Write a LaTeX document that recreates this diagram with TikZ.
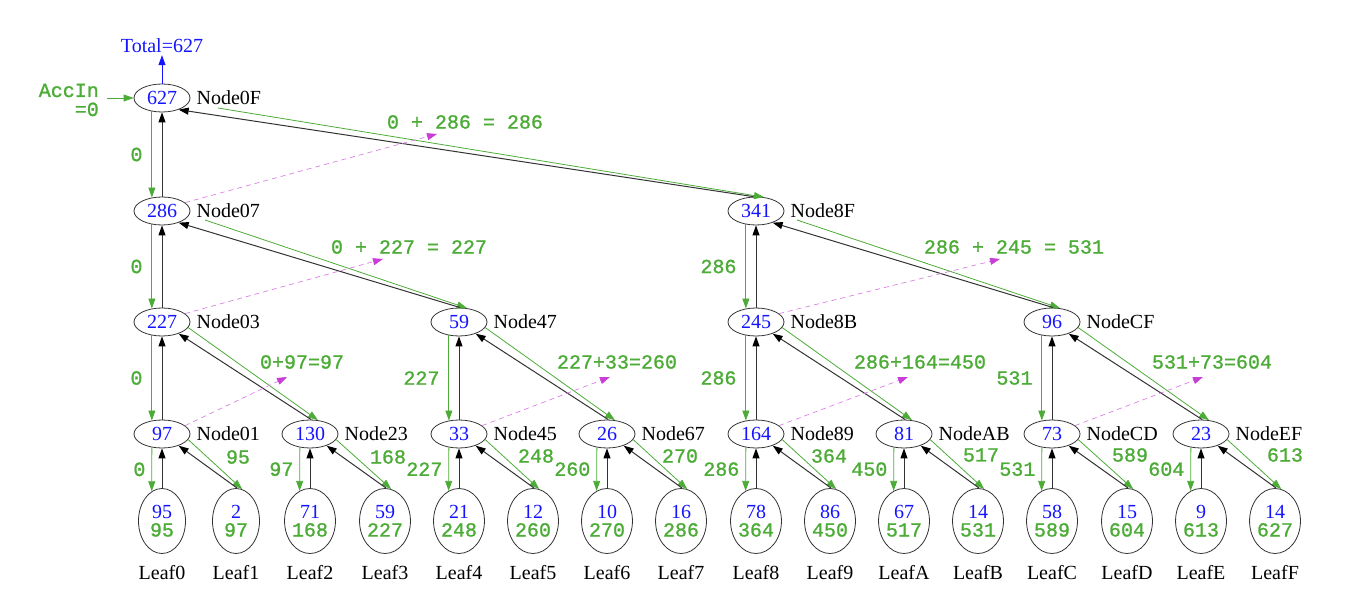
\documentclass[tikz,border=0pt]{standalone}
\usepackage{fontspec}
\setmainfont{Liberation Serif}
\newfontfamily\gfont{Liberation Mono}[FakeBold=1.2]
\usetikzlibrary{shapes.geometric,arrows.meta,positioning}

\definecolor{accgreen}{RGB}{77,172,56}
\definecolor{sumblue}{RGB}{20,20,255}
\definecolor{carry}{RGB}{200,60,215}

\tikzset{
    sumnode/.style={ellipse, draw=black!80, line width=0.8pt, minimum width=56pt, minimum height=28pt,
        inner sep=0pt, text=sumblue, font=\fontsize{20}{24}\selectfont},
    leafnode/.style={ellipse, draw=black!80, line width=0.8pt, minimum width=47pt, minimum height=65pt,
        inner sep=0pt, align=center, font=\fontsize{20}{18}\selectfont},
    tag/.style={inner sep=0pt, font=\fontsize{20}{24}\selectfont},
    acc/.style={inner sep=0pt, text=accgreen, font=\fontsize{20}{24}\selectfont\gfont},
    downedge/.style={draw=accgreen, line width=0.8pt, -{Triangle[length=10pt,width=7pt]}},
    upedge/.style={draw=black!80, line width=1pt, -{Triangle[length=10pt,width=7pt,color=black]}},
    carryedge/.style={draw=carry!65, dashed, dash pattern=on 5pt off 4pt, line width=0.7pt,
        -{Triangle[length=10pt,width=7pt,color=carry]}},
    totedge/.style={draw=sumblue, line width=0.8pt, -{Triangle[length=10pt,width=7pt]}}
}

\newcommand{\lv}[2]{\textcolor{sumblue}{#1}\\\textcolor{accgreen}{\gfont #2}}

\begin{document}
\begin{tikzpicture}[x=1pt, y=-1pt]

        \useasboundingbox (0,0) rectangle (1366,612);

        % tree nodes
        \node[sumnode] (n0F) at (162,98) {627};

        \node[sumnode] (n07) at (162,211) {286};
        \node[sumnode] (n8F) at (756,211) {341};

        \node[sumnode] (n03) at (162,322) {227};
        \node[sumnode] (n47) at (459,322) {59};
        \node[sumnode] (n8B) at (756,322) {245};
        \node[sumnode] (nCF) at (1052,322) {96};

        \node[sumnode] (n01) at (162,434) {97};
        \node[sumnode] (n23) at (310,434) {130};
        \node[sumnode] (n45) at (459,434) {33};
        \node[sumnode] (n67) at (607,434) {26};
        \node[sumnode] (n89) at (756,434) {164};
        \node[sumnode] (nAB) at (904,434) {81};
        \node[sumnode] (nCD) at (1052,434) {73};
        \node[sumnode] (nEF) at (1201,434) {23};

        % leaves
        \node[leafnode] (l0) at (162,521) {\lv{95}{95}};
        \node[leafnode] (l1) at (236,521) {\lv{2}{97}};
        \node[leafnode] (l2) at (310,521) {\lv{71}{168}};
        \node[leafnode] (l3) at (385,521) {\lv{59}{227}};
        \node[leafnode] (l4) at (459,521) {\lv{21}{248}};
        \node[leafnode] (l5) at (533,521) {\lv{12}{260}};
        \node[leafnode] (l6) at (607,521) {\lv{10}{270}};
        \node[leafnode] (l7) at (681,521) {\lv{16}{286}};
        \node[leafnode] (l8) at (756,521) {\lv{78}{364}};
        \node[leafnode] (l9) at (830,521) {\lv{86}{450}};
        \node[leafnode] (lA) at (904,521) {\lv{67}{517}};
        \node[leafnode] (lB) at (978,521) {\lv{14}{531}};
        \node[leafnode] (lC) at (1052,521) {\lv{58}{589}};
        \node[leafnode] (lD) at (1127,521) {\lv{15}{604}};
        \node[leafnode] (lE) at (1201,521) {\lv{9}{613}};
        \node[leafnode] (lF) at (1275,521) {\lv{14}{627}};

        % names
        \node[tag, right=6pt of n0F] (t0F) {Node0F};
        \node[tag, right=6pt of n07] (t07) {Node07};
        \node[tag, right=6pt of n8F] (t8F) {Node8F};
        \node[tag, right=6pt of n03] (t03) {Node03};
        \node[tag, right=6pt of n47] (t47) {Node47};
        \node[tag, right=6pt of n8B] (t8B) {Node8B};
        \node[tag, right=6pt of nCF] (tCF) {NodeCF};
        \node[tag, right=6pt of n01] (t01) {Node01};
        \node[tag, right=6pt of n23] (t23) {Node23};
        \node[tag, right=6pt of n45] (t45) {Node45};
        \node[tag, right=6pt of n67] (t67) {Node67};
        \node[tag, right=6pt of n89] (t89) {Node89};
        \node[tag, right=6pt of nAB] (tAB) {NodeAB};
        \node[tag, right=6pt of nCD] (tCD) {NodeCD};
        \node[tag, right=6pt of nEF] (tEF) {NodeEF};

        \node[tag, below=11pt of l0] (k0) {Leaf0};
        \node[tag, below=11pt of l1] (k1) {Leaf1};
        \node[tag, below=11pt of l2] (k2) {Leaf2};
        \node[tag, below=11pt of l3] (k3) {Leaf3};
        \node[tag, below=11pt of l4] (k4) {Leaf4};
        \node[tag, below=11pt of l5] (k5) {Leaf5};
        \node[tag, below=11pt of l6] (k6) {Leaf6};
        \node[tag, below=11pt of l7] (k7) {Leaf7};
        \node[tag, below=11pt of l8] (k8) {Leaf8};
        \node[tag, below=11pt of l9] (k9) {Leaf9};
        \node[tag, below=11pt of lA] (kA) {LeafA};
        \node[tag, below=11pt of lB] (kB) {LeafB};
        \node[tag, below=11pt of lC] (kC) {LeafC};
        \node[tag, below=11pt of lD] (kD) {LeafD};
        \node[tag, below=11pt of lE] (kE) {LeafE};
        \node[tag, below=11pt of lF] (kF) {LeafF};

        % input and total
        \node[acc, align=right, anchor=east, inner xsep=8pt, font=\fontsize{20}{19}\selectfont\gfont]
            (accin) at (107,100) {AccIn\\=0};
        \node[tag, text=sumblue, inner sep=2pt] (total) at (162,46) {Total=627};

        \draw[downedge] (accin.east |- n0F.west) -- (n0F.west);
        \draw[totedge] (n0F) -- (total);

        % prefix going down, left child
        \draw[downedge] (n0F.233) -- node[acc, midway, left=9pt] (e07) {0} (n07.127);
        \draw[downedge] (n07.233) -- node[acc, midway, left=9pt] (e03) {0} (n03.127);
        \draw[downedge] (n8F.233) -- node[acc, midway, left=9pt] (e8B) {286} (n8B.127);
        \draw[downedge] (n03.233) -- node[acc, midway, left=9pt] (e01) {0} (n01.127);
        \draw[downedge] (n47.233) -- node[acc, midway, left=9pt] (e45) {227} (n45.127);
        \draw[downedge] (n8B.233) -- node[acc, midway, left=9pt] (e89) {286} (n89.127);
        \draw[downedge] (nCF.233) -- node[acc, midway, left=9pt] (eCD) {531} (nCD.127);

        \draw[downedge] (n01.233) -- node[acc, midway, left=6pt] (e0) {0} (l0.109);
        \draw[downedge] (n23.233) -- node[acc, midway, left=6pt] (e2) {97} (l2.109);
        \draw[downedge] (n45.233) -- node[acc, midway, left=6pt] (e4) {227} (l4.109);
        \draw[downedge] (n67.233) -- node[acc, midway, left=6pt] (e6) {260} (l6.109);
        \draw[downedge] (n89.233) -- node[acc, midway, left=6pt] (e8) {286} (l8.109);
        \draw[downedge] (nAB.233) -- node[acc, midway, left=6pt] (eA) {450} (lA.109);
        \draw[downedge] (nCD.233) -- node[acc, midway, left=6pt] (eC) {531} (lC.109);
        \draw[downedge] (nEF.233) -- node[acc, midway, left=6pt] (eE) {604} (lE.109);

        % prefix going down, right child
        \draw[downedge] ([shift={(56,10)}]n0F.center) -- (n8F.60);
        \draw[downedge] ([shift={(43,9)}]n07.center) -- (n47.60);
        \draw[downedge] ([shift={(41,9)}]n8F.center) -- (nCF.60);
        \draw[downedge] (n03.-12) -- (n23.60);
        \draw[downedge] (n47.-12) -- (n67.60);
        \draw[downedge] (n8B.-12) -- (nAB.60);
        \draw[downedge] (nCF.-12) -- (nEF.60);

        \draw[downedge] (n01.-12) -- (l1.79);
        \draw[downedge] (n23.-12) -- (l3.79);
        \draw[downedge] (n45.-12) -- (l5.79);
        \draw[downedge] (n67.-12) -- (l7.79);
        \draw[downedge] (n89.-12) -- (l9.79);
        \draw[downedge] (nAB.-12) -- (lB.79);
        \draw[downedge] (nCD.-12) -- (lD.79);
        \draw[downedge] (nEF.-12) -- (lF.79);

        % sums on the right edges
        \node[acc] (s0F) at (465,122) {0 + 286 = 286};
        \node[acc] (s07) at (409,247) {0 + 227 = 227};
        \node[acc] (s8F) at (1014,247) {286 + 245 = 531};
        \node[acc] (s03) at (302,362) {0+97=97};
        \node[acc] (s47) at (617,362) {227+33=260};
        \node[acc] (s8B) at (920,362) {286+164=450};
        \node[acc] (sCF) at (1212,362) {531+73=604};

        \node[acc] (w1) at (238,457) {95};
        \node[acc] (w3) at (388,457) {168};
        \node[acc] (w5) at (536,456) {248};
        \node[acc] (w7) at (680,456) {270};
        \node[acc] (w9) at (829,456) {364};
        \node[acc] (wB) at (981,455) {517};
        \node[acc] (wD) at (1130,455) {589};
        \node[acc] (wF) at (1285,455) {613};

        % sums going up
        \draw[upedge] (n07.north) -- (n0F.south);
        \draw[upedge] (n03.north) -- (n07.south);
        \draw[upedge] (n8B.north) -- (n8F.south);
        \draw[upedge] (n01.north) -- (n03.south);
        \draw[upedge] (n45.north) -- (n47.south);
        \draw[upedge] (n89.north) -- (n8B.south);
        \draw[upedge] (nCD.north) -- (nCF.south);
        \draw[upedge] (l0.north) -- (n01.south);
        \draw[upedge] (l2.north) -- (n23.south);
        \draw[upedge] (l4.north) -- (n45.south);
        \draw[upedge] (l6.north) -- (n67.south);
        \draw[upedge] (l8.north) -- (n89.south);
        \draw[upedge] (lA.north) -- (nAB.south);
        \draw[upedge] (lC.north) -- (nCD.south);
        \draw[upedge] (lE.north) -- (nEF.south);

        \draw[upedge] (n8F.100) -- (n0F.-35);
        \draw[upedge] (n47.85) -- (n07.-35);
        \draw[upedge] (nCF.85) -- (n8F.-35);
        \draw[upedge] (n23.85) -- (n03.-35);
        \draw[upedge] (n67.85) -- (n47.-35);
        \draw[upedge] (nAB.85) -- (n8B.-35);
        \draw[upedge] (nEF.85) -- (nCF.-35);
        \draw[upedge] (l1.88) -- (n01.-35);
        \draw[upedge] (l3.88) -- (n23.-35);
        \draw[upedge] (l5.88) -- (n45.-35);
        \draw[upedge] (l7.88) -- (n67.-35);
        \draw[upedge] (l9.88) -- (n89.-35);
        \draw[upedge] (lB.88) -- (nAB.-35);
        \draw[upedge] (lD.88) -- (nCD.-35);
        \draw[upedge] (lF.88) -- (nEF.-35);

        % left sum carried over to the right
        \coordinate (c0F) at (437,134);
        \coordinate (c07) at (383,259);
        \coordinate (c8F) at (1000,259);
        \coordinate (c03) at (287,377);
        \coordinate (c47) at (610,377);
        \coordinate (c8B) at (908,377);
        \coordinate (cCF) at (1203,377);

        \draw[carryedge] (n07.20) -- (c0F);
        \draw[carryedge] (n03.20) -- (c07);
        \draw[carryedge] (n8B.20) -- (c8F);
        \draw[carryedge] (n01.20) -- (c03);
        \draw[carryedge] (n45.20) -- (c47);
        \draw[carryedge] (n89.20) -- (c8B);
        \draw[carryedge] (nCD.20) -- (cCF);

\end{tikzpicture}
\end{document}
